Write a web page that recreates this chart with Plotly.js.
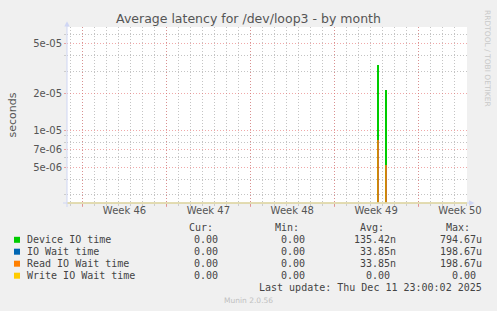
<!DOCTYPE html>
<html><head><meta charset="utf-8">
<script src="https://cdn.plot.ly/plotly-3.0.1.min.js"></script>
<style>html,body{margin:0;padding:0;background:#F0F0F0;}#chart{width:497px;height:311px;}</style>
</head><body><div id="chart"></div><script>
// ---- data ----
const weekLabels = ['Week 46','Week 47','Week 48','Week 49','Week 50'];
const weekStarts = ['2025-11-10','2025-11-17','2025-11-24','2025-12-01','2025-12-08'];
const weekLabelPos = ['2025-11-13 12:00','2025-11-20 12:00','2025-11-27 12:00','2025-12-04 12:00','2025-12-11 12:00'];
const xRange = ['2025-11-08 16:48','2025-12-12 02:00'];
const yTickVals = [5e-5,2e-5,1e-5,7e-6,5e-6];
const yTickText = ['5e-05','2e-05','1e-05','7e-06','5e-06'];
const yMinorVals = [3e-6,4e-6,6e-6,8e-6,9e-6,3e-5,4e-5,6e-5];
const spikeTimes = ['2025-12-04 16:00','2025-12-05 08:00'];
const deviceIOTime = [3.4e-5, 2.1e-5];
const ioWaitTime = [8.3e-6, 5.2e-6];
const readIOWaitTime = [8.3e-6, 5.2e-6];
const writeIOWaitTime = [0, 0];
const seriesNames = ['Device IO time','IO Wait time','Read IO Wait time','Write IO Wait time'];
const seriesColors = ['#00CC00','#0066B3','#FF8000','#FFCC00'];
const colHeaders = ['Cur:','Min:','Avg:','Max:'];
const curVals = ['0.00','0.00','0.00','0.00'];
const minVals = ['0.00','0.00','0.00','0.00'];
const avgVals = ['135.42n','33.85n','33.85n','0.00'];
const maxVals = ['794.67u','198.67u','198.67u','0.00'];
const lastUpdate = 'Last update: Thu Dec 11 23:00:02 2025';
const chartTitle = 'Average latency for /dev/loop3 - by month';
const yTitle = 'seconds';
const sideText = 'RRDTOOL / TOBI OETIKER';
const footer = 'Munin 2.0.56';

// ---- geometry helpers ----
const L = 67, T = 27, W = 400, H = 176;
const px = v => (v - L) / W;
const py = v => (T + H - v) / H;
const HOUR = 3600000;

const traces = [
  {type:'bar', x:spikeTimes, y:deviceIOTime, name:seriesNames[0], width:3*HOUR, xaxis:'x',
   marker:{color:seriesColors[0], line:{width:0}}},
  {type:'bar', x:spikeTimes, y:ioWaitTime, name:seriesNames[1], width:2*HOUR, xaxis:'x',
   marker:{color:seriesColors[1], line:{width:0}}},
  {type:'bar', x:spikeTimes, y:readIOWaitTime, name:seriesNames[2], width:5*HOUR, xaxis:'x2',
   marker:{color:seriesColors[2], opacity:0.8, line:{width:0}}}
];

const mono = {family:'DejaVu Sans Mono', size:10, color:'#444'};
const annotations = [];
function ann(text, x, y, xanchor, font, extra) {
  annotations.push(Object.assign({text, xref:'paper', yref:'paper', x:px(x), y:py(y),
    xanchor, yanchor:'middle', showarrow:false, font, borderpad:0}, extra||{}));
}
const colRight = [225, 312, 397, 483];
const headerRight = [214, 300, 385, 471];
const rowY = [239.8, 251.7, 263.7, 275.7];
colHeaders.forEach((h,i)=>ann(h, headerRight[i], 227.8, 'right', mono));
const pad = s => /[a-z]$/i.test(s) ? s : s + '\u00a0';
seriesNames.forEach((n,i)=>{
  ann(n, 26, rowY[i], 'left', mono);
  [curVals, minVals, avgVals, maxVals].forEach((arr,c)=>ann(pad(arr[i]), colRight[c], rowY[i], 'right', mono));
});
ann(lastUpdate, 483, 287.8, 'right', mono);
ann(footer, 248, 300.2, 'center', {family:'DejaVu Sans', size:7.5, color:'#c0c0c0'});
ann(sideText, 488, 58, 'center', {family:'DejaVu Sans', size:7.5, color:'#c8c8c8'}, {textangle:90});

const shapes = [];
seriesNames.forEach((n,i)=>{
  shapes.push({type:'rect', xref:'paper', yref:'paper', x0:px(14), x1:px(20), y0:py(rowY[i]-3), y1:py(rowY[i]+3),
    fillcolor:seriesColors[i], line:{width:0}});
});
const axisBlue = '#cfd6f4';
shapes.push({type:'line', xref:'paper', yref:'paper', x0:px(67), x1:px(67), y0:py(207), y1:py(24), line:{color:axisBlue, width:1}});
shapes.push({type:'line', xref:'paper', yref:'paper', x0:px(63), x1:px(469), y0:py(203), y1:py(203), line:{color:axisBlue, width:1}});
shapes.push({type:'line', xref:'paper', yref:'paper', x0:px(67.5), x1:px(467), y0:py(203), y1:py(203), line:{color:'#e2d79a', width:1.5}});
shapes.push({type:'path', xref:'paper', yref:'paper',
  path:`M ${px(67)} ${py(21.3)} L ${px(64.3)} ${py(26.5)} L ${px(69.7)} ${py(26.5)} Z`, fillcolor:axisBlue, line:{width:0}});
shapes.push({type:'path', xref:'paper', yref:'paper',
  path:`M ${px(474.5)} ${py(203)} L ${px(469)} ${py(200.3)} L ${px(469)} ${py(205.7)} Z`, fillcolor:axisBlue, line:{width:0}});

const redGrid = 'rgba(230,110,110,0.6)';
const grayGrid = '#c4c4c4';
const dots = '1px,2px';
const tickFont = {family:'DejaVu Sans', size:10, color:'#555'};

const layout = {
  width:497, height:311,
  margin:{l:L, r:497-L-W, t:T, b:311-T-H, pad:0},
  paper_bgcolor:'#F0F0F0', plot_bgcolor:'#FFFFFF',
  showlegend:false, barmode:'overlay', bargap:0,
  title:{text:chartTitle, x:0.5, xanchor:'center', xref:'container', y:1-18.5/311, yref:'container', yanchor:'middle',
    font:{family:'DejaVu Sans', size:12.5, color:'#555'}},
  xaxis:{type:'date', range:xRange, tickmode:'array', tickvals:weekStarts, ticktext:weekStarts.map(()=>''),
    showgrid:true, gridcolor:redGrid, griddash:dots, gridwidth:1, ticks:'outside', ticklen:3, tickcolor:redGrid,
    showline:false, zeroline:false, fixedrange:true,
    minor:{dtick:86400000, tick0:'2025-11-08', showgrid:true, gridcolor:grayGrid, griddash:dots, ticks:'outside', ticklen:2, tickcolor:'#cccccc'}},
  xaxis2:{type:'date', range:xRange, overlaying:'x', anchor:'y', side:'bottom', tickmode:'array', tickvals:weekLabelPos, ticktext:weekLabels,
    showgrid:false, ticks:'', showline:false, zeroline:false, tickfont:tickFont, fixedrange:true},
  yaxis:{type:'log', range:[-5.588,-4.165], tickmode:'array', tickvals:yTickVals, ticktext:yTickText,
    showgrid:true, gridcolor:redGrid, griddash:dots, ticks:'outside', ticklen:2, tickcolor:redGrid,
    showline:false, zeroline:false, tickfont:tickFont, fixedrange:true,
    title:{text:yTitle, font:{family:'DejaVu Sans', size:11, color:'#555'}, standoff:14},
    minor:{tickmode:'array', tickvals:yMinorVals, showgrid:true, gridcolor:grayGrid, griddash:dots, ticks:'outside', ticklen:2, tickcolor:'#cccccc'}},
  shapes, annotations
};
Plotly.newPlot('chart', traces, layout, {staticPlot:true, displayModeBar:false});
</script></body></html>
